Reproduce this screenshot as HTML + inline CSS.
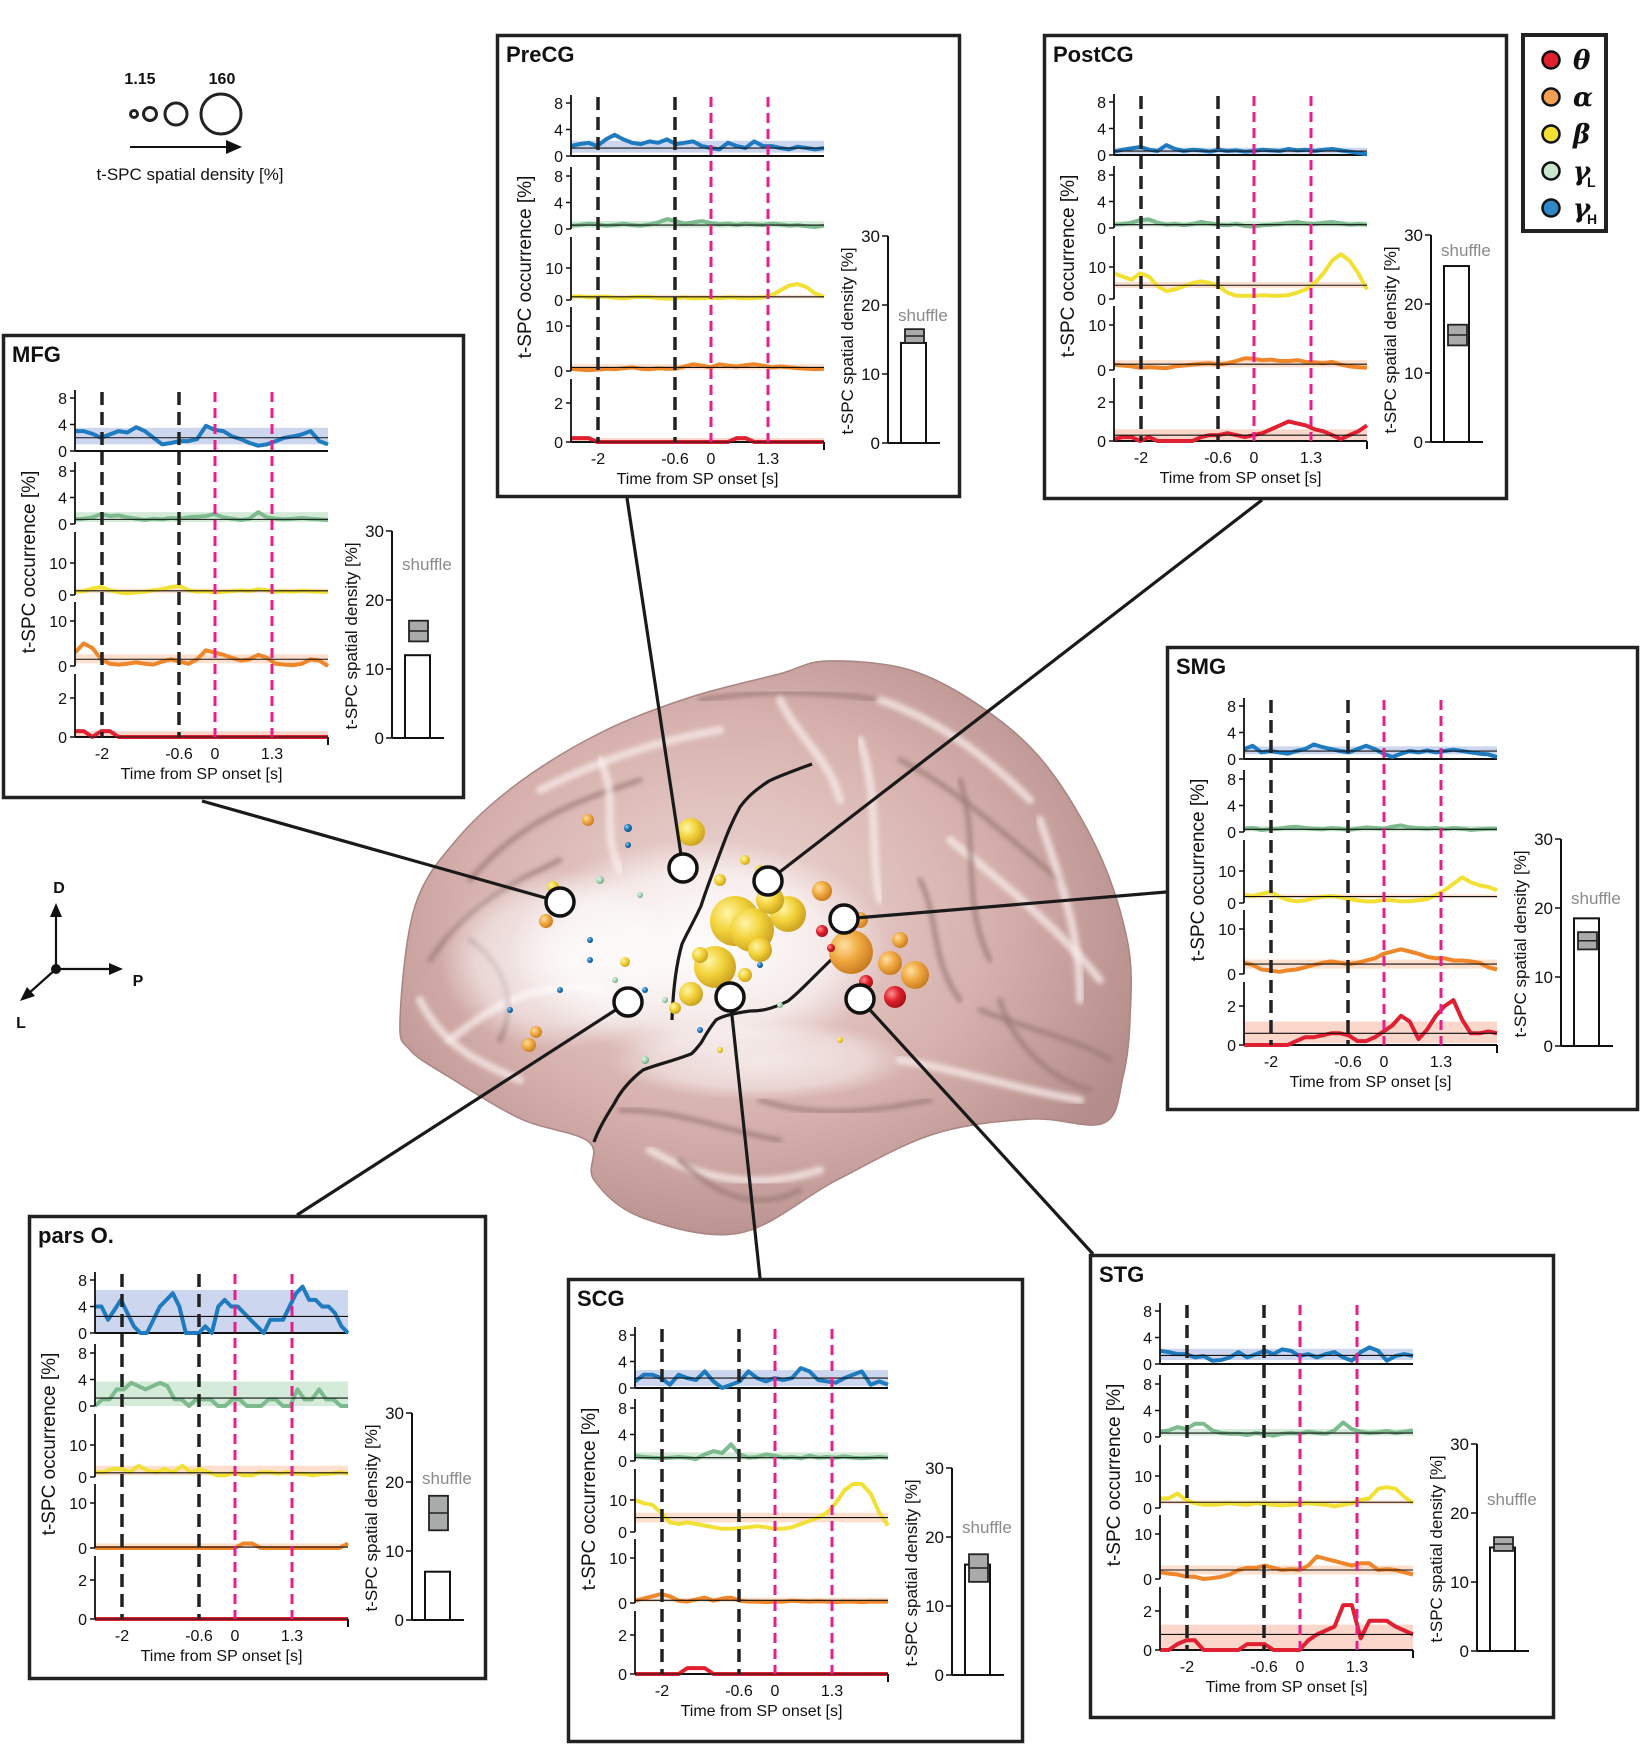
<!DOCTYPE html>
<html><head><meta charset="utf-8">
<style>
html,body{margin:0;padding:0;background:#fff;}
svg{display:block;font-family:"Liberation Sans",Arial,sans-serif;}
</style></head>
<body>
<svg id="fig" width="1646" height="1748" viewBox="0 0 1646 1748" xmlns="http://www.w3.org/2000/svg">
<defs>
  <radialGradient id="brainGrad" cx="0.45" cy="0.45" r="0.6">
    <stop offset="0" stop-color="#eedad7"/>
    <stop offset="0.6" stop-color="#d6b0ac"/>
    <stop offset="1" stop-color="#b48d8b"/>
  </radialGradient>
  <radialGradient id="whiteGlow" cx="0.5" cy="0.5" r="0.5">
    <stop offset="0" stop-color="#ffffff" stop-opacity="0.95"/>
    <stop offset="0.7" stop-color="#ffffff" stop-opacity="0.6"/>
    <stop offset="1" stop-color="#ffffff" stop-opacity="0"/>
  </radialGradient>
  <radialGradient id="sphY" cx="0.35" cy="0.35" r="0.7"><stop offset="0" stop-color="#fff6a8"/><stop offset="0.5" stop-color="#f2d23a"/><stop offset="1" stop-color="#c9a020"/></radialGradient>
  <radialGradient id="sphO" cx="0.35" cy="0.35" r="0.7"><stop offset="0" stop-color="#ffe0a0"/><stop offset="0.5" stop-color="#f0a840"/><stop offset="1" stop-color="#c77a20"/></radialGradient>
  <radialGradient id="sphR" cx="0.35" cy="0.35" r="0.7"><stop offset="0" stop-color="#ff9090"/><stop offset="0.5" stop-color="#e0202c"/><stop offset="1" stop-color="#a01018"/></radialGradient>
  <radialGradient id="sphB" cx="0.35" cy="0.35" r="0.7"><stop offset="0" stop-color="#9fd0f0"/><stop offset="0.5" stop-color="#1f7bbf"/><stop offset="1" stop-color="#0f4a80"/></radialGradient>
  <radialGradient id="sphG" cx="0.35" cy="0.35" r="0.7"><stop offset="0" stop-color="#e8f5ea"/><stop offset="0.6" stop-color="#9fcfae"/><stop offset="1" stop-color="#6a9f7a"/></radialGradient>
  <filter id="blur3"><feGaussianBlur stdDeviation="2.5"/></filter>
</defs>
<g id="brain-layer"></g>
<g id="panels-layer"></g>
<g id="overlay-layer"></g>
</svg>
<script>
// ===== Data arrays =====
const bandNames = ['gammaH','gammaL','beta','alpha','theta'];
const timeTicks = ['-2','-0.6','0','1.3'];
const yTicksGamma = [0,4,8];
const yTicksBeta = [0,10];
const yTicksTheta = [0,2];
const barTicks = [0,10,20,30];

// MFG
const mfgBlue = [3,3,2.6,2,2.5,3,2.8,3.6,3,2,1,1.2,1.5,1.5,1.8,3.8,3.2,3,2.2,1.8,1.2,0.8,1,1.5,2,2.2,2.5,3,1.5,1];
const mfgGreen = [0.7,0.8,1,1.5,1.2,1.3,1,0.8,0.6,0.8,0.7,0.9,0.8,1,1.1,1.2,1.5,1,0.8,0.6,0.8,1.8,1,0.8,0.7,0.8,0.9,0.8,0.7,0.6];
const mfgYellow = [1,1.2,2,2.5,1.5,0.8,0.5,0.8,1,1.5,1.8,2.5,2.8,1.5,1,1.2,0.8,1,1.2,1.5,1.2,1.8,1.5,1,1.2,1,1.3,1.1,1,1];
const mfgOrange = [3,5,4,1.5,0.5,0.3,0.5,0.8,0.5,0.3,1,1.5,1,0.5,1.5,3.5,3,2.5,1.8,1.2,1.5,2.5,1.8,0.5,0.3,0.2,0.5,1.5,1.2,0];
const mfgRed = [0.3,0.3,0,0.3,0.3,0,0,0,0,0,0,0,0,0,0,0,0,0,0,0,0,0,0,0,0,0,0,0,0,0];
const mfgMeans = [2,0.7,1.3,1.5,0];
const mfgLo = [1,0.3,0.6,0.6,0];
const mfgHi = [3.5,1.8,2,2.6,0.3];
const mfgBar = [12,14,17];

// PreCG
const precgBlue = [1.5,1.8,2,1.5,2.5,3.2,2.5,2,1.8,2.2,2,2.5,1.8,2,2.2,1.5,1.2,1,2,1.5,1.2,2.2,1.5,1.5,1.2,1,1.4,1.2,1,1.2];
const precgGreen = [0.5,0.6,0.8,0.7,0.5,0.6,0.8,0.6,0.5,0.7,1,1.5,1.2,0.8,1,1.2,0.9,0.7,0.8,0.6,0.8,0.7,0.6,0.8,0.7,0.5,0.6,0.4,0.3,0.5];
const precgYellow = [1,1.2,0.8,1,1.1,0.7,0.5,0.8,1,0.9,0.6,0.4,0.5,0.8,0.5,0.6,0.7,0.6,0.8,0.7,0.5,0.6,0.8,1.5,3,4.5,5,4,2,1];
const precgOrange = [0.5,0.3,0.2,0.3,0.5,0.4,0.6,0.8,0.5,0.4,0.6,0.5,0.5,1,1.5,1.2,0.8,1.5,1.2,1,1.3,1.5,1.2,0.8,1,0.8,0.6,0.5,0.4,0.5];
const precgRed = [0.2,0.2,0.2,0,0,0,0,0,0,0,0,0,0,0,0,0,0,0,0,0.2,0.2,0,0,0,0,0,0,0,0,0];
const precgMeans = [1.2,0.6,1,0.8,0];
const precgLo = [0.5,0.2,0.5,0.3,0];
const precgHi = [2.3,1.2,1.6,1.5,0.2];
const precgBar = [14.5,14.5,16.5];

// PostCG
const postcgBlue = [0.5,0.8,1,1.2,0.8,0.6,1.5,0.9,0.6,0.8,0.7,0.5,0.8,0.6,0.7,0.5,0.6,0.8,0.7,0.6,0.9,0.7,0.8,0.6,0.8,0.9,0.7,0.5,0.3,0.1];
const postcgGreen = [0.5,0.6,0.8,1.2,1.3,0.8,0.5,0.6,0.4,0.6,0.9,0.7,0.5,0.4,0.6,0.3,0.2,0.4,0.5,0.6,0.8,0.9,0.7,0.6,0.8,0.9,0.7,0.5,0.6,0.5];
const postcgYellow = [8,7,6,8,7,4,2.5,3,4,5,5.5,5,4,2,1,1,1,1.2,1,1,1.2,2,3,5,8,12,14,12,8,3];
const postcgOrange = [1.2,1,0.8,0.5,0.6,0.5,0.4,0.8,1,1.2,1.4,1.5,1.2,1.5,2,2.6,2.5,2.2,2.3,2,2,2.2,1.8,1.7,1.5,1.8,1.2,0.8,0.6,0.5];
const postcgRed = [0.1,0.2,0.2,0,0.2,0,0,0,0,0,0.2,0.3,0.3,0.4,0.3,0.2,0.3,0.4,0.6,0.8,1,0.9,0.8,0.6,0.5,0.3,0.1,0.3,0.5,0.8];
const postcgMeans = [0.6,0.5,4.3,1.3,0.3];
const postcgLo = [0.2,0.2,3.5,0.6,0];
const postcgHi = [1.1,1,5.3,2.2,0.6];
const postcgBar = [25.5,14,17];

// SMG
const smgBlue = [1.5,2,1,1.2,1,0.8,1.2,1.5,2.2,1.8,1.5,1.2,1,1.5,2,1.5,0.8,0.3,0.8,1.2,1,1.3,1,1.2,1.4,1.2,1,0.8,0.7,0.3];
const smgGreen = [0.5,0.6,0.3,0.4,0.5,0.7,0.8,0.6,0.5,0.4,0.6,0.5,0.3,0.5,0.7,0.6,0.5,0.8,1,0.7,0.6,0.5,0.6,0.4,0.6,0.5,0.3,0.4,0.5,0.5];
const smgYellow = [2.5,2.2,2.8,3.5,2,1,0.5,0.8,1.5,2,2.2,1.8,1.2,0.8,0.5,0.5,1,0.8,0.5,0.6,0.8,1.2,2.5,4,6,8,6.5,5.5,5,4];
const smgOrange = [2.5,2,1,0.8,0.5,0.8,1,1.5,2,2.5,2.8,2.5,2.2,2.5,3,3.5,4.5,5,5.5,5,4.5,3.8,3.5,3.5,3,3,2.8,2.5,1.5,1];
const smgRed = [0,0,0,0,0,0,0.2,0.4,0.4,0.5,0.6,0.6,0.5,0.2,0.2,0.4,0.7,1,1.5,1.2,0.3,0.8,1.5,2,2.3,1.3,0.6,0.6,0.7,0.6];
const smgMeans = [1.2,0.4,2,2.2,0.6];
const smgLo = [0.7,0.1,1.5,1.2,0.1];
const smgHi = [1.9,0.9,2.7,3.2,1.2];
const smgBar = [18.5,14,16.5];

// pars O.
const parsBlue = [4,4,2,3.5,5,3,1,0,0,2,4,5,6,4,0,0,0,1,0,4,5,4,4,3,2,1,0,2,2,2,4,6,7,5,5,4,4,3,1,0];
const parsGreen = [0,1,1,2.5,2.5,3.5,3,2.5,3,3.5,3,1,1,0,1,1,1,0,0,1,1,0,0,0,1,1,0,0,2.5,1,1,2.5,1,1,0,0];
const parsYellow = [1.5,1.5,2.5,2.5,1.5,3.5,2,1.5,2.5,1.5,3.5,1.5,2.5,1.5,0.5,0.5,1.5,0.5,0.5,1.5,1.5,1,1.5,1,1,0.5,1,1,1.5,1];
const parsOrange = [0,0,0,0,0,0,0,0,0,0,0,0,0,0,0,0,0,1,1,0,0,0,0,0,0,0,0,0,0,1];
const parsRed = [0,0,0,0,0,0,0,0,0,0,0,0,0,0,0,0,0,0,0,0,0,0,0,0,0,0,0,0,0,0];
const parsMeans = [2.5,1.2,1.3,0.2,0];
const parsLo = [0,0,0.5,0,0];
const parsHi = [6.5,3.7,3.5,1,0.05];
const parsBar = [7,13,18];

// SCG
const scgBlue = [1,2,2,1.5,0.5,2,1.5,1.2,2.5,1,0,0.5,1,2.5,1.5,1,1.5,1.2,1.5,3,2.5,1.2,1,0.8,1.5,2,2.5,0.5,1,0.5];
const scgGreen = [0.8,0.6,0.5,0.4,0.5,0.6,0.5,0.3,1,1.5,1.2,2.5,1,0.5,0.6,1,0.8,0.5,0.6,0.4,0.8,0.5,0.6,0.5,0.7,0.5,0.4,0.5,0.6,0.5];
const scgYellow = [10,9,8.5,6,3,2.5,3,2.5,2,1.5,1,1,1.2,1.5,1.8,1.5,1,1,1.5,2.5,3.5,4.5,6,9,13,15,15,12,6,2];
const scgOrange = [0.5,1,1.5,2,1.5,0.5,0.3,0.8,1.2,0.5,1,1.2,0.5,0.3,0.3,0.2,0.3,0.3,0.5,0.4,0.3,0.4,0.3,0.2,0.3,0.3,0.2,0.3,0.3,0.3];
const scgRed = [0,0,0,0,0,0,0.3,0.3,0.3,0,0,0,0,0,0,0,0,0,0,0,0,0,0,0,0,0,0,0,0,0];
const scgMeans = [1.5,0.5,4.5,0.6,0];
const scgLo = [0.3,0.2,3,0.2,0];
const scgHi = [2.7,1.3,6,1.2,0.05];
const scgBar = [16,13.5,17.5];

// STG
const stgBlue = [2,1.8,1.5,1.5,1,1.2,0.5,0.6,1,1.8,1,1.5,2,1.5,2.2,2,1.2,1.5,1,1.5,1.8,1,0.5,1.8,2.5,2,0.5,1.2,1.5,1.2];
const stgGreen = [0.8,1,1.5,1.2,2,2,1,0.6,0.5,0.5,0.3,0.6,0.4,0.2,0.5,0.6,0.5,0.8,0.6,0.5,1,2.2,1.2,0.8,0.6,0.7,0.9,0.6,0.8,1];
const stgYellow = [3,3,4.5,2.5,1.5,1,1,1.2,1.5,1.2,1,1.5,1.2,1,0.8,1,1.2,1.5,1.2,1,0.5,1,1.5,2.5,3,6,6.5,6,3.5,1.5];
const stgOrange = [1.5,1.2,1,0.5,0.5,0,0.2,0.5,1,2,2.5,2.5,3,2.5,2,2.2,2,3,5,4.5,4,3.5,3,3.5,3.5,2,2.2,2,1.5,1];
const stgRed = [0,0,0.3,0.5,0.5,0,0,0,0,0,0.3,0.3,0.3,0,0,0,0,0.5,0.8,1,1.2,2.3,2.3,0.6,1.5,1.5,1.5,1.2,1,0.8];
const stgMeans = [1.3,0.6,1.8,2,0.8];
const stgLo = [0.6,0.2,1.2,1,0];
const stgHi = [2.3,1.2,2.4,3,1.3];
const stgBar = [15,14.5,16.5];

// ===== Style / layout (not data) =====
const COLORS = ['#1f7bbf','#7dbb8e','#f2e035','#f0862a','#e02030'];
const BANDFILL = ['#c6d2ec','#cfe9d5','#fcdcc8','#fcdcc8','#fbd2c4'];
const NS = 'http://www.w3.org/2000/svg';
function mk(tag, attrs, parent){
  const e = document.createElementNS(NS, tag);
  for (const k in attrs) e.setAttribute(k, attrs[k]);
  if (parent) parent.appendChild(e);
  return e;
}
function txt(parent, x, y, s, size, anchor, extra){
  const t = mk('text', Object.assign({x:x, y:y, 'font-size':size, 'text-anchor':anchor||'start', fill:'#111'}, extra||{}), parent);
  t.textContent = s;
  return t;
}

const panels = [
  {key:'mfg', title:'MFG', x:2, y:334, w:463, h:465, ox:0, oy:0, shufY:236,
   series:[mfgBlue,mfgGreen,mfgYellow,mfgOrange,mfgRed], means:mfgMeans, lo:mfgLo, hi:mfgHi, bar:mfgBar},
  {key:'precg', title:'PreCG', x:496, y:34, w:465, h:464, ox:2, oy:5, shufY:282,
   series:[precgBlue,precgGreen,precgYellow,precgOrange,precgRed], means:precgMeans, lo:precgLo, hi:precgHi, bar:precgBar},
  {key:'postcg', title:'PostCG', x:1043, y:34, w:465, h:466, ox:-2, oy:4, shufY:218,
   series:[postcgBlue,postcgGreen,postcgYellow,postcgOrange,postcgRed], means:postcgMeans, lo:postcgLo, hi:postcgHi, bar:postcgBar},
  {key:'smg', title:'SMG', x:1166, y:646, w:473, h:465, ox:5, oy:-4, shufY:262,
   series:[smgBlue,smgGreen,smgYellow,smgOrange,smgRed], means:smgMeans, lo:smgLo, hi:smgHi, bar:smgBar},
  {key:'pars', title:'pars O.', x:28, y:1215, w:459, h:465, ox:-6, oy:1, shufY:268,
   series:[parsBlue,parsGreen,parsYellow,parsOrange,parsRed], means:parsMeans, lo:parsLo, hi:parsHi, bar:parsBar},
  {key:'scg', title:'SCG', x:567, y:1278, w:457, h:465, ox:-5, oy:-7, shufY:262,
   series:[scgBlue,scgGreen,scgYellow,scgOrange,scgRed], means:scgMeans, lo:scgLo, hi:scgHi, bar:scgBar},
  {key:'stg', title:'STG', x:1089, y:1254, w:466, h:465, ox:-2, oy:-7, shufY:258,
   series:[stgBlue,stgGreen,stgYellow,stgOrange,stgRed], means:stgMeans, lo:stgLo, hi:stgHi, bar:stgBar}
];
const SUB = [
  {y0:117, ppu:53/8, top:56, ticks:yTicksGamma},
  {y0:190, ppu:53/8, top:128, ticks:yTicksGamma},
  {y0:261, ppu:3.2, top:198, ticks:yTicksBeta},
  {y0:332, ppu:4.5, top:268, ticks:yTicksBeta},
  {y0:403, ppu:19.5, top:340, ticks:yTicksTheta}
];
const AX_L = 73, AX_R = 326;
const TICK_X = [100,177,213,270];

const panelsLayer = document.getElementById('panels-layer');

panels.forEach(p => {
  const g = mk('g', {transform:'translate('+p.x+','+p.y+')'}, panelsLayer);
  
  
  const frame = mk('rect', {x:1.5, y:1.5, width:p.w-3, height:p.h-3, fill:'#fff', stroke:'#222', 'stroke-width':3.5}, g);
  
  
  const title = txt(g, 10, 28, p.title, 22, 'start', {'font-weight':'bold'});
  
  

  const ox = p.ox, oy = p.oy;
  const axL = AX_L + ox, axR = AX_R + ox;
  function xAt(i, n){ return axL + (axR - axL) * i / (n - 1); }

  SUB.forEach((s, bi) => {
    const y0 = s.y0 + oy;
    const yAt = v => y0 - v * s.ppu;
    const sg = mk('g', {}, g);
    
    
    const band = mk('rect', {x:axL, y:yAt(p.hi[bi]), width:axR-axL, height:Math.max(1,(p.hi[bi]-p.lo[bi])*s.ppu), fill:BANDFILL[bi], opacity:0.9}, sg);
    
    
    if (bi === 0 || bi === 4) {
      const zl = mk('line', {x1:axL, x2:axR, y1:y0, y2:y0, stroke:'#111', 'stroke-width':2}, sg);
      
      
    }
    const arr = p.series[bi];
    const pts = arr.map((v, i) => xAt(i, arr.length).toFixed(1) + ',' + yAt(v).toFixed(1)).join(' ');
    const pl = mk('polyline', {points:pts, fill:'none', stroke:COLORS[bi], 'stroke-width':4, 'stroke-linejoin':'round'}, sg);
    
    
    const ml = mk('line', {x1:axL, x2:axR, y1:yAt(p.means[bi]), y2:yAt(p.means[bi]), stroke:'#111', 'stroke-width':1.1}, sg);
    
    
    const ya = mk('line', {x1:axL, x2:axL, y1:s.top+oy, y2:y0, stroke:'#111', 'stroke-width':1.8}, sg);
    
    
    s.ticks.forEach(tv => {
      const ty = yAt(tv);
      const tk = mk('line', {x1:axL-5, x2:axL, y1:ty, y2:ty, stroke:'#111', 'stroke-width':1.5}, sg);
      
      
      const tl = txt(sg, axL-8, ty+6, String(tv), 16, 'end');
      
      
    });
  });

  TICK_X.forEach((tx, i) => {
    const x = tx + ox;
    const dl = mk('line', {x1:x, x2:x, y1:58+oy, y2:SUB[4].y0+oy, stroke: i<2 ? '#222' : '#e81e8c', 'stroke-width': i<2 ? 3.5 : 3, 'stroke-dasharray': i<2 ? '13,7' : '10,6'}, g);
    
    
    const lab = txt(g, x, SUB[4].y0 + oy + 22, timeTicks[i], 16, 'middle');
    
    
  });
  const endTick = mk('line', {x1:axR, x2:axR, y1:SUB[4].y0+oy, y2:SUB[4].y0+oy+8, stroke:'#111', 'stroke-width':2}, g);
  
  
  const xt = txt(g, (axL+axR)/2, SUB[4].y0 + oy + 42, 'Time from SP onset [s]', 16, 'middle');
  
  
  const yt = txt(g, 0, 0, 't-SPC occurrence [%]', 19, 'middle', {transform:'translate(' + (axL-40) + ',' + (228+oy) + ') rotate(-90)'});
  
  

  const bx = 390 + ox, by0 = 404 + oy, bppu = (404 - 197) / 30;
  const byAt = v => by0 - v * bppu;
  const bg = mk('g', {}, g);
  
  
  const bax = mk('line', {x1:bx, x2:bx, y1:byAt(30), y2:by0, stroke:'#111', 'stroke-width':2}, bg);
  
  
  const bbase = mk('line', {x1:bx, x2:bx+52, y1:by0, y2:by0, stroke:'#111', 'stroke-width':2}, bg);
  
  
  barTicks.forEach(tv => {
    const tk = mk('line', {x1:bx-6, x2:bx, y1:byAt(tv), y2:byAt(tv), stroke:'#111', 'stroke-width':1.5}, bg);
    
    
    const tl = txt(bg, bx-8, byAt(tv)+6, String(tv), 17, 'end');
    
    
  });
  const bar = mk('rect', {x:bx+13, y:byAt(p.bar[0]), width:25, height:p.bar[0]*bppu, fill:'#fff', stroke:'#111', 'stroke-width':2}, bg);
  
  
  const sb = mk('rect', {x:bx+17, y:byAt(p.bar[2]), width:19, height:(p.bar[2]-p.bar[1])*bppu, fill:'#a9abab', stroke:'#222', 'stroke-width':1.8}, bg);
  
  
  const sm = (p.bar[1] + p.bar[2]) / 2;
  const sml = mk('line', {x1:bx+17, x2:bx+36, y1:byAt(sm), y2:byAt(sm), stroke:'#222', 'stroke-width':1.5}, bg);
  
  
  const st = txt(bg, bx+10, p.shufY + oy, 'shuffle', 17, 'start', {fill:'#8a8a8a'});
  
  
  const bt = txt(bg, 0, 0, 't-SPC spatial density [%]', 17, 'middle', {transform:'translate(' + (bx-35) + ',' + (302+oy) + ') rotate(-90)'});
  
  
});

// ===== Brain =====
const brainLayer = document.getElementById('brain-layer');
const brainPts = [[400,1020],[415,906],[458,838],[521,781],[604,731],[691,697],[779,674],[827,661],[910,670],[983,708],[1046,765],[1099,853],[1128,944],[1130,1020],[1123,1077],[1104,1123],[1031,1119],[934,1134],[837,1180],[740,1233],[643,1218],[594,1180],[589,1142],[521,1119],[449,1077],[410,1050]];
function smoothPath(pts){
  let d = 'M' + pts[0][0] + ',' + pts[0][1];
  const n = pts.length;
  for (let i = 0; i < n; i++) {
    const p0 = pts[(i-1+n)%n], p1 = pts[i], p2 = pts[(i+1)%n], p3 = pts[(i+2)%n];
    const c1 = [p1[0]+(p2[0]-p0[0])/6, p1[1]+(p2[1]-p0[1])/6];
    const c2 = [p2[0]-(p3[0]-p1[0])/6, p2[1]-(p3[1]-p1[1])/6];
    d += ' C' + c1[0].toFixed(1)+','+c1[1].toFixed(1)+' '+c2[0].toFixed(1)+','+c2[1].toFixed(1)+' '+p2[0]+','+p2[1];
  }
  return d + 'Z';
}
const brain = mk('path', {d:smoothPath(brainPts), fill:'url(#brainGrad)', stroke:'#a88482', 'stroke-width':1.5}, brainLayer);


const gyri = [
 'M430,960 C470,900 520,880 560,860','M450,1040 C500,1000 540,980 600,990','M470,880 C520,820 580,800 640,780',
 'M540,790 C600,760 660,740 720,730','M700,700 C760,690 820,690 880,700','M880,700 C940,720 990,760 1030,800',
 'M900,760 C960,790 1010,840 1060,880','M950,840 C1000,880 1060,930 1100,980','M980,1010 C1030,1030 1080,1040 1110,1060',
 'M900,1060 C960,1070 1020,1090 1080,1100','M760,1100 C820,1120 880,1110 930,1100','M650,1150 C700,1180 760,1190 820,1170',
 'M620,1110 C680,1110 720,1130 780,1140','M860,740 C880,800 870,860 880,900','M960,780 C980,840 960,900 990,960',
 'M1040,820 C1060,880 1080,930 1080,1000','M1000,1000 C1010,1040 1050,1080 1090,1090','M420,1000 C440,1040 470,1060 520,1080',
 'M680,1160 C720,1200 760,1210 800,1190','M780,700 C800,740 830,760 840,800','M920,880 C940,920 930,960 960,1000',
 'M600,760 C620,800 600,830 620,870','M470,940 C500,960 520,1000 500,1040'
];
gyri.forEach((d, i) => {
  const gp = mk('path', {d:d, fill:'none', stroke: i%2 ? '#f7ecea' : '#9a7876', 'stroke-width': i%2 ? 8 : 5, 'stroke-linecap':'round', opacity:0.75, filter:'url(#blur3)'}, brainLayer);
  
  
});
const glow1 = mk('ellipse', {cx:700, cy:950, rx:190, ry:110, fill:'url(#whiteGlow)'}, brainLayer);


const glow2 = mk('ellipse', {cx:560, cy:960, rx:120, ry:90, fill:'url(#whiteGlow)', opacity:0.8}, brainLayer);


const glow3 = mk('ellipse', {cx:760, cy:1060, rx:150, ry:40, fill:'url(#whiteGlow)', opacity:0.7}, brainLayer);



const sulci = [
 'M812,764 C790,772 775,778 769,781 C752,792 745,800 740,807 C730,825 725,840 720,853 C712,875 706,890 701,906 C692,925 686,935 682,944 C676,965 673,990 672,1020',
 'M832,959 C815,975 800,992 788,1001 C770,1010 760,1011 750,1011 C735,1013 722,1016 716,1020 C708,1030 704,1038 701,1043 C696,1049 694,1052 691,1054 C670,1062 655,1065 643,1070 C630,1080 620,1092 614,1104 C605,1118 598,1130 594,1142'
];
sulci.forEach(d => {
  const sp = mk('path', {d:d, fill:'none', stroke:'#1a1a1a', 'stroke-width':3.2}, brainLayer);
  
  
});

const spheres = [
 [735,921,25,'Y'],[752,930,22,'Y'],[715,967,21,'Y'],[691,832,14,'Y'],[788,914,18,'Y'],[770,900,14,'Y'],[760,950,12,'Y'],
 [851,952,22,'O'],[915,975,14,'O'],[890,963,12,'O'],[822,891,10,'O'],[860,920,8,'O'],[900,940,8,'O'],
 [895,997,11,'R'],[866,982,7,'R'],[822,931,6,'R'],[831,948,4,'R'],
 [691,994,12,'Y'],[700,955,8,'Y'],[727,990,8,'Y'],[675,1008,6,'Y'],[745,975,7,'Y'],[720,880,6,'Y'],[760,870,5,'Y'],
 [546,921,7,'O'],[553,887,6,'Y'],[536,1032,6,'O'],[529,1045,7,'O'],[588,820,6,'O'],[625,962,5,'Y'],[745,860,5,'Y'],
 [628,828,4,'B'],[628,845,3,'B'],[590,940,3,'B'],[645,990,3,'B'],[700,1030,3,'B'],[760,965,3,'B'],[510,1010,3,'B'],[560,990,3,'B'],
 [600,880,4,'G'],[640,895,3,'G'],[645,1060,4,'G'],[665,1000,3,'G'],[780,1005,3,'G'],[615,980,3,'G'],[590,960,3,'B'],[720,1050,3,'Y'],[840,1040,3,'Y']
];
const sphFill = {Y:'url(#sphY)', O:'url(#sphO)', R:'url(#sphR)', B:'url(#sphB)', G:'url(#sphG)'};
spheres.forEach(s => {
  const c = mk('circle', {cx:s[0], cy:s[1], r:s[2], fill:sphFill[s[3]]}, brainLayer);
  
  
});

// ===== Connectors & region markers =====
const overlay = document.getElementById('overlay-layer');
const connectors = [
 ['mfg',202,801,560,902],['precg',627,498,683,868],['postcg',1262,500,768,881],['smg',1166,892,844,919],
 ['stg',1093,1254,860,999],['scg',760,1278,730,997],['pars',297,1215,628,1002]
];
connectors.forEach(c => {
  const l = mk('line', {x1:c[1], y1:c[2], x2:c[3], y2:c[4], stroke:'#1a1a1a', 'stroke-width':3.2}, overlay);
  
  
});
connectors.forEach(c => {
  const m = mk('circle', {cx:c[3], cy:c[4], r:14, fill:'#fff', stroke:'#111', 'stroke-width':3.5}, overlay);
  
  
});

// ===== Size legend =====
const sl = mk('g', {}, overlay);


const s1 = txt(sl, 140, 84, '1.15', 16, 'middle', {'font-weight':'bold'});


const s2 = txt(sl, 222, 84, '160', 16, 'middle', {'font-weight':'bold'});


[[134,114,3.5],[150,114,6.5],[176,114,11],[221,114,20]].forEach(c => {
  const cc = mk('circle', {cx:c[0], cy:c[1], r:c[2], fill:'#fff', stroke:'#222', 'stroke-width':3}, sl);
  
  
});
const arl = mk('line', {x1:130, y1:147, x2:228, y2:147, stroke:'#111', 'stroke-width':2}, sl);


const arh = mk('polygon', {points:'242,147 226,140 226,154', fill:'#111'}, sl);


const slt = txt(sl, 190, 180, 't-SPC spatial density [%]', 17, 'middle');



// ===== Orientation axes =====
const ori = mk('g', {stroke:'#111', 'stroke-width':2.2}, overlay);


mk('line', {x1:56, y1:969, x2:56, y2:915}, ori);
mk('polygon', {points:'56,903 50,917 62,917', fill:'#111', stroke:'none'}, ori);
mk('line', {x1:56, y1:969, x2:112, y2:969}, ori);
mk('polygon', {points:'123,969 109,963 109,975', fill:'#111', stroke:'none'}, ori);
mk('line', {x1:56, y1:969, x2:28, y2:994}, ori);
mk('polygon', {points:'20,1001 27,987 35,996', fill:'#111', stroke:'none'}, ori);
mk('circle', {cx:56, cy:969, r:5, fill:'#111', stroke:'none'}, ori);
const oD = txt(overlay, 59, 893, 'D', 16, 'middle', {'font-weight':'bold'});


const oP = txt(overlay, 138, 986, 'P', 16, 'middle', {'font-weight':'bold'});


const oL = txt(overlay, 21, 1028, 'L', 16, 'middle', {'font-weight':'bold'});



// ===== Band legend =====
const lg = mk('g', {}, overlay);


const lgBox = mk('rect', {x:1523, y:35, width:83, height:196, fill:'#fff', stroke:'#222', 'stroke-width':4}, lg);


const legendColors = ['#e0202c','#f0a050','#f2e035','#c9e6d0','#2f88c8'];
const legendLabels = ['θ','α','β','γ','γ'];
const legendSubs = ['','','','L','H'];
legendColors.forEach((col, i) => {
  const cy = 60 + i * 37;
  const dot = mk('circle', {cx:1551, cy:cy, r:8.5, fill:col, stroke:'#111', 'stroke-width':2.5}, lg);
  
  
  const t = txt(lg, 1573, cy + 9, legendLabels[i], 26, 'start', {'font-weight':'bold', 'font-style':'italic', 'font-family':'"DejaVu Serif","Liberation Serif",serif'});
  
  
  if (legendSubs[i]) {
    const ts = txt(lg, 1587, cy + 16, legendSubs[i], 14, 'start', {'font-weight':'bold'});
    
    
  }
});
</script>
</body></html>
